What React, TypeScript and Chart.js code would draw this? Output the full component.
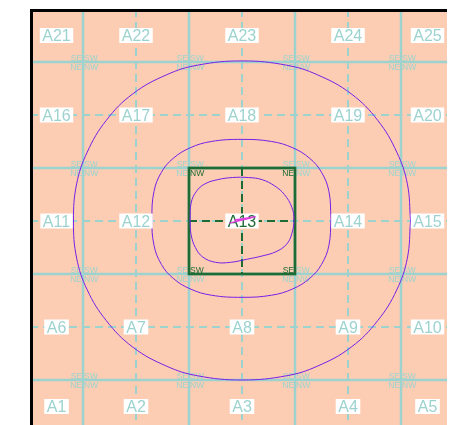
import React, { useEffect, useRef } from "react";
import { Chart, registerables } from "chart.js";

Chart.register(...registerables);

// ---- data ----
const AXIS_MIN = -200;
const AXIS_MAX = 200;
const solidLines = [-150, -50, 50, 150];
const dashedLines = [-100, 0, 100];
const labelCols = [-175, -100, 0, 100, 175];
const labelRows = [-175, -100, 0, 100, 175]; // bottom -> top
const cellLabels = [
  ["A1", "A2", "A3", "A4", "A5"],
  ["A6", "A7", "A8", "A9", "A10"],
  ["A11", "A12", "A13", "A14", "A15"],
  ["A16", "A17", "A18", "A19", "A20"],
  ["A21", "A22", "A23", "A24", "A25"],
];
const focusLabel = "A13";
const focusCenter = [0, 0];

const outerContour = [
  [159, 0], [156, 35], [146, 65], [128, 95], [103, 120], [71, 138], [42, 147], [0, 151],
  [-42, 147], [-71, 138], [-103, 120], [-128, 95], [-146, 65], [-156, 35], [-159, 0],
  [-156, -35], [-146, -65], [-128, -94], [-103, -119], [-71, -137], [-42, -146], [0, -150],
  [42, -146], [71, -137], [103, -119], [128, -94], [146, -65], [156, -35], [159, 0],
];
const middleContour = [
  [84, 2], [82, 28], [75, 46], [64, 59], [48, 69], [28, 75], [0, 77], [-29, 75],
  [-49, 69], [-65, 59], [-76, 46], [-83, 28], [-85, 2], [-83, -23], [-76, -41],
  [-65, -54], [-49, -64], [-29, -70], [0, -72], [28, -70], [48, -64], [64, -54],
  [75, -41], [82, -23], [84, 2],
];
const innerContour = [
  [-49, 1], [-48, 17], [-43, 28], [-35, 35], [-23, 39], [-9, 41], [6, 41], [19, 39],
  [31, 33], [40, 25], [47, 13], [49, 1], [47, -12], [42, -22], [32, -29], [19, -33],
  [5, -36], [-11, -39], [-25, -39], [-37, -34], [-44, -25], [-48, -13], [-49, 1],
];
const scribble = [[-12, -2], [9, 3], [-7, 1], [13, 4]];

// ---- styles ----
const PEACH = "#fccdb2";
const TEAL = "#9dd3cf";
const GREEN = "#1d6b35";
const PURPLE = "#7a1fe8";
const MAGENTA = "#e040e0";
const FONT = '"Liberation Sans", Arial, sans-serif';

const toPts = (arr: number[][]) => arr.map(([x, y]) => ({ x, y }));

const mapPlugin = {
  id: "mapPlugin",
  beforeDatasetsDraw(chart: any) {
    const { ctx, chartArea: a, scales } = chart;
    const X = (v: number) => scales.x.getPixelForValue(v);
    const Y = (v: number) => scales.y.getPixelForValue(v);
    ctx.save();
    ctx.fillStyle = PEACH;
    ctx.fillRect(a.left, a.top, a.right - a.left, a.bottom - a.top);
    ctx.beginPath();
    ctx.rect(a.left, a.top, a.right - a.left, a.bottom - a.top);
    ctx.clip();
    // dashed lines
    ctx.strokeStyle = TEAL;
    ctx.lineWidth = 2;
    ctx.setLineDash([8, 5]);
    dashedLines.forEach((v) => {
      ctx.beginPath();
      ctx.moveTo(X(v), a.top);
      ctx.lineTo(X(v), a.bottom);
      ctx.stroke();
      ctx.beginPath();
      ctx.moveTo(a.left, Y(v));
      ctx.lineTo(a.right, Y(v));
      ctx.stroke();
    });
    // solid lines
    ctx.setLineDash([]);
    ctx.lineWidth = 2.5;
    solidLines.forEach((v) => {
      ctx.beginPath();
      ctx.moveTo(X(v), a.top);
      ctx.lineTo(X(v), a.bottom);
      ctx.stroke();
      ctx.beginPath();
      ctx.moveTo(a.left, Y(v));
      ctx.lineTo(a.right, Y(v));
      ctx.stroke();
    });
    // corner labels
    const half = (solidLines[1] - solidLines[0]) / 2;
    ctx.font = `8.5px ${FONT}`;
    const corners = [
      { t: "SE", dx: -1, dy: 1 },
      { t: "SW", dx: 1, dy: 1 },
      { t: "NE", dx: -1, dy: -1 },
      { t: "NW", dx: 1, dy: -1 },
    ];
    solidLines.forEach((ix) => {
      solidLines.forEach((iy) => {
        corners.forEach((c) => {
          const cx = ix + c.dx * half;
          const cy = iy + c.dy * half;
          const isFocus = cx === focusCenter[0] && cy === focusCenter[1];
          ctx.fillStyle = isFocus ? GREEN : TEAL;
          ctx.textAlign = c.dx < 0 ? "right" : "left";
          ctx.textBaseline = "alphabetic";
          const px = X(ix) + (c.dx < 0 ? -1 : 1);
          const py = c.dy > 0 ? Y(iy) - 1 : Y(iy) + 8;
          ctx.fillText(c.t, px, py);
        });
      });
    });
    // focus cell
    const l = X(focusCenter[0] - half), r = X(focusCenter[0] + half);
    const t = Y(focusCenter[1] + half), b = Y(focusCenter[1] - half);
    ctx.strokeStyle = GREEN;
    ctx.lineWidth = 2;
    ctx.setLineDash([8, 5]);
    ctx.beginPath();
    ctx.moveTo(X(focusCenter[0]), t);
    ctx.lineTo(X(focusCenter[0]), b);
    ctx.moveTo(l, Y(focusCenter[1]));
    ctx.lineTo(r, Y(focusCenter[1]));
    ctx.stroke();
    ctx.setLineDash([]);
    ctx.lineWidth = 2.7;
    ctx.strokeRect(l, t, r - l, b - t);
    ctx.restore();
  },
  beforeDatasetDraw(chart: any, args: any) {
    if (args.index !== 0) return;
    const { ctx, scales } = chart;
    ctx.save();
    ctx.font = `16px ${FONT}`;
    ctx.textAlign = "center";
    ctx.textBaseline = "alphabetic";
    labelRows.forEach((ry, ri) => {
      labelCols.forEach((rx, ci) => {
        const txt = cellLabels[ri][ci];
        const px = scales.x.getPixelForValue(rx);
        const py = scales.y.getPixelForValue(ry);
        const w = ctx.measureText(txt).width + 5;
        const h = 15;
        ctx.fillStyle = "#ffffff";
        ctx.fillRect(px - w / 2, py - h / 2, w, h);
        ctx.fillStyle = txt === focusLabel ? GREEN : TEAL;
        ctx.fillText(txt, px, py + 5.8);
      });
    });
    ctx.restore();
  },
  afterDraw(chart: any) {
    const { ctx, chartArea: a } = chart;
    ctx.save();
    ctx.fillStyle = "#000000";
    ctx.fillRect(a.left, a.top, a.right - a.left, 3);
    ctx.fillRect(a.left, a.top, 3, a.bottom - a.top);
    ctx.fillRect(a.right - 5, a.top, 6, a.bottom - a.top);
    ctx.fillRect(a.left, a.bottom - 3, a.right - a.left, 3);
    ctx.restore();
  },
};

export default function App() {
  const ref = useRef<HTMLCanvasElement | null>(null);
  useEffect(() => {
    if (!ref.current) return;
    const line = (d: number[][], color: string, width: number) => ({
      data: toPts(d),
      showLine: true,
      borderColor: color,
      borderWidth: width,
      pointRadius: 0,
      tension: 0.4,
      fill: false,
    });
    const chart = new Chart(ref.current, {
      type: "scatter",
      data: {
        datasets: [
          { ...line(scribble, MAGENTA, 1.5), tension: 0 },
          line(innerContour, PURPLE, 1),
          line(middleContour, PURPLE, 1),
          line(outerContour, PURPLE, 1),
        ],
      },
      options: {
        animation: false,
        responsive: false,
        devicePixelRatio: 1,
        events: [],
        layout: { padding: { left: 22, top: 1, right: 1, bottom: 5 } },
        plugins: { legend: { display: false }, tooltip: { enabled: false } },
        scales: {
          x: { type: "linear", min: AXIS_MIN, max: AXIS_MAX, display: false },
          y: { type: "linear", min: AXIS_MIN, max: AXIS_MAX, display: false },
        },
      },
      plugins: [mapPlugin],
    } as any);
    return () => chart.destroy();
  }, []);
  return (
    <div style={{ width: 447, height: 417, overflow: "hidden" }}>
      <canvas ref={ref} width={447} height={430} style={{ display: "block", width: 447, height: 430 }} />
    </div>
  );
}
